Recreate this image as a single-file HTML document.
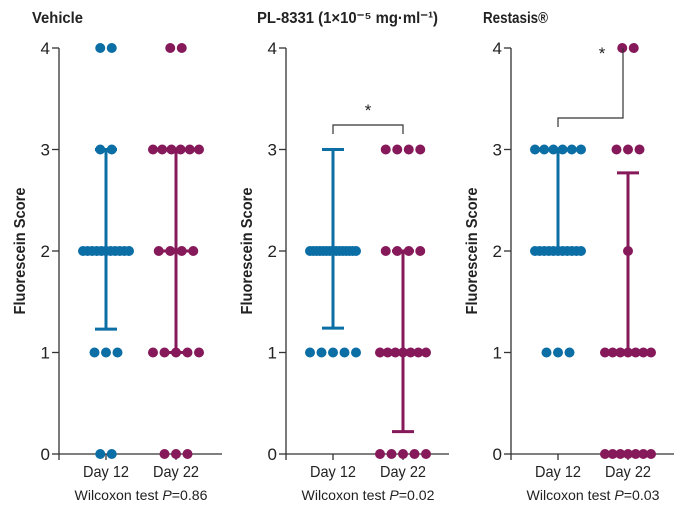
<!DOCTYPE html>
<html><head><meta charset="utf-8"><style>
html,body{margin:0;padding:0;background:#fff;width:679px;height:507px;overflow:hidden}
svg text{font-family:"Liberation Sans Narrow","Liberation Sans",sans-serif}
</style></head><body>
<svg id="chart" width="679" height="507" viewBox="0 0 679 507" xmlns="http://www.w3.org/2000/svg"></svg>
<script>
const panelTitles = ["Vehicle", "PL-8331 (1×10⁻⁵ mg·ml⁻¹)", "Restasis®"];
const pValues = ["0.86", "0.02", "0.03"];
const categories = ["Day 12", "Day 22"];
const yTicks = [0, 1, 2, 3, 4];
// counts of animals at each score 0..4, per panel per day
const countsDay12 = [[2,3,11,2,2],[0,5,15,0,0],[0,3,11,6,0]];
const countsDay22 = [[3,5,4,6,2],[5,7,4,4,0],[7,7,1,3,2]];
const centerDay12 = [2,2,2], lowDay12 = [1.23,1.24,2], highDay12 = [3,3,3];
const centerDay22 = [2,1,1], lowDay22 = [1,0.22,1], highDay22 = [3,2,2.77];

const svg = document.getElementById('chart');
const NS = "http://www.w3.org/2000/svg";
function mk(tag, attrs, parent){const e=document.createElementNS(NS,tag);for(const k in attrs)e.setAttribute(k,attrs[k]);(parent||svg).appendChild(e);return e;}
const axisX = [59, 286, 511];
const titleX = [32, 257, 483], titleW = [51, 181, 65];
const blue = "#0b6ea5", red = "#86195a";
const yScale = v => 454 - v*101.5;
axisX.forEach((ax, p) => {
  const g = mk('g', {});
  
  
  const xc = [ax+47, ax+117];
  const title = mk('text', {x: titleX[p], y: 23, 'font-size': 16, 'font-weight': 'bold', fill: '#222', textLength: titleW[p], lengthAdjust: 'spacingAndGlyphs'}, g);
  title.textContent = panelTitles[p];
  
  
  const yt = mk('text', {x: 0, y: 0, transform: `translate(${ax-34},251) rotate(-90)`, 'text-anchor': 'middle', 'font-size': 16, 'font-weight': 'bold', fill: '#222', textLength: 127, lengthAdjust: 'spacingAndGlyphs'}, g);
  yt.textContent = "Fluorescein Score";
  
  
  const ya = mk('line', {x1: ax, y1: yScale(4), x2: ax, y2: 460, stroke: '#333', 'stroke-width': 1.3}, g);
  
  
  const xa = mk('line', {x1: ax, y1: 454, x2: ax+163, y2: 454, stroke: '#333', 'stroke-width': 1.3}, g);
  
  
  yTicks.forEach(t => {
    mk('line', {x1: ax-7, y1: yScale(t), x2: ax, y2: yScale(t), stroke: '#333', 'stroke-width': 1.3}, g);
    const tl = mk('text', {x: ax-9, y: yScale(t)+6, 'text-anchor': 'end', 'font-size': 17, fill: '#222'}, g);
    tl.textContent = t;
    
    
  });
  categories.forEach((c, i) => {
    mk('line', {x1: xc[i], y1: 454, x2: xc[i], y2: 460, stroke: '#333', 'stroke-width': 1.3}, g);
    const cl = mk('text', {x: xc[i], y: 477, 'text-anchor': 'middle', 'font-size': 16, fill: '#222', textLength: 46, lengthAdjust: 'spacingAndGlyphs'}, g);
    cl.textContent = c;
    
    
  });
  const wt = mk('text', {x: ax+82, y: 500, 'text-anchor': 'middle', 'font-size': 14, fill: '#222', textLength: 133, lengthAdjust: 'spacingAndGlyphs'}, g);
  wt.innerHTML = 'Wilcoxon test <tspan font-style="italic">P</tspan>=' + pValues[p];
  
  
  const groups = [[countsDay12, centerDay12, lowDay12, highDay12, blue], [countsDay22, centerDay22, lowDay22, highDay22, red]];
  groups.forEach(([cnt, cen, lo, hi, col], i) => {
    const x = xc[i];
    mk('line', {x1: x, y1: yScale(lo[p]), x2: x, y2: yScale(hi[p]), stroke: col, 'stroke-width': 3}, g);
    mk('line', {x1: x-11, y1: yScale(lo[p]), x2: x+11, y2: yScale(lo[p]), stroke: col, 'stroke-width': 3}, g);
    mk('line', {x1: x-11, y1: yScale(hi[p]), x2: x+11, y2: yScale(hi[p]), stroke: col, 'stroke-width': 3}, g);
    mk('line', {x1: x-22, y1: yScale(cen[p]), x2: x+22, y2: yScale(cen[p]), stroke: col, 'stroke-width': 3}, g);
    cnt[p].forEach((n, s) => {
      const sp = n > 1 ? Math.min(11.5, 46/(n-1)) : 0;
      for (let k = 0; k < n; k++) {
        const cx = x + (k - (n-1)/2) * sp;
        const d = mk('circle', {cx: cx, cy: yScale(s), r: 5, fill: col}, g);
        
        
      }
    });
  });
  if (p == 1) {
    const b = mk('path', {d: `M${xc[0]} 134 V125 H${xc[1]} V134`, fill: 'none', stroke: '#333', 'stroke-width': 1.2}, g);
    
    
    const st = mk('text', {x: (xc[0]+xc[1])/2, y: 116, 'text-anchor': 'middle', 'font-size': 17, fill: '#222'}, g);
    st.textContent = '*';
  }
  if (p == 2) {
    const b = mk('path', {d: `M${xc[0]} 127 V118 H${ax+112} V48`, fill: 'none', stroke: '#333', 'stroke-width': 1.2}, g);
    
    
    const st = mk('text', {x: ax+91, y: 59, 'text-anchor': 'middle', 'font-size': 17, fill: '#222'}, g);
    st.textContent = '*';
  }
});
</script>
</body></html>
